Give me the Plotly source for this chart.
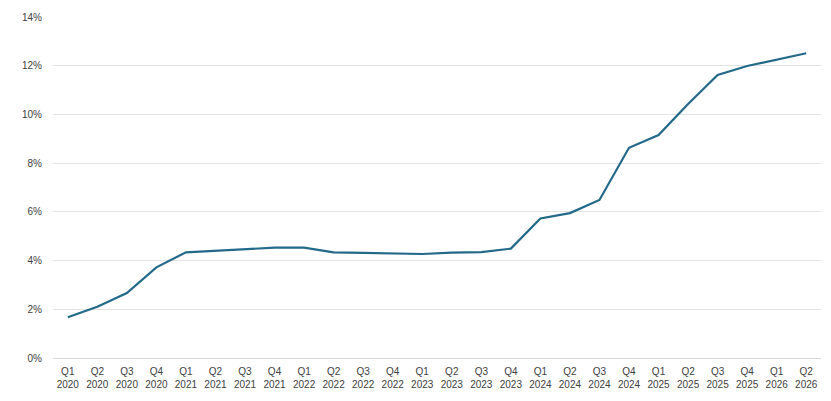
import plotly.graph_objects as go

quarters = ["Q1", "Q2", "Q3", "Q4"]
years = [2020, 2021, 2022, 2023, 2024, 2025, 2026]
categories = [f"{q}<br>{y}" for y in years for q in quarters][:26]

values = [1.67, 2.10, 2.67, 3.72, 4.34, 4.40, 4.45, 4.53,
          4.53, 4.34, 4.32, 4.28, 4.27, 4.33, 4.35, 4.49,
          5.73, 5.95, 6.49, 8.63, 9.15, 10.43, 11.62, 11.99,
          12.25, 12.51]
values = [v / 100 for v in values]

fig = go.Figure()
fig.add_trace(go.Scatter(
    x=categories, y=values, mode="lines",
    line=dict(color="#23698A", width=2.2),
    showlegend=False, hoverinfo="skip",
))

fig.update_layout(
    width=831, height=401,
    margin=dict(l=53, r=10, t=17, b=43),
    paper_bgcolor="white", plot_bgcolor="white",
    font=dict(family="Liberation Sans, Arial, sans-serif", size=10, color="#595959"),
)
fig.update_xaxes(
    type="category", showgrid=False, ticks="", showline=False,
    range=[-0.5, len(categories) - 0.5],
    ticklabelstandoff=6,
    tickfont=dict(size=10, color="#404040"),
)
fig.update_yaxes(
    range=[0, 0.14], dtick=0.02, tickformat=".0%",
    showgrid=True, gridcolor="#E3E3E3", gridwidth=1,
    zeroline=True, zerolinecolor="#D9D9D9", zerolinewidth=1,
    showline=False, ticks="", ticklen=0,
    ticklabelstandoff=10,
    tickfont=dict(size=10, color="#404040"),
)

fig.write_html("out.html")
